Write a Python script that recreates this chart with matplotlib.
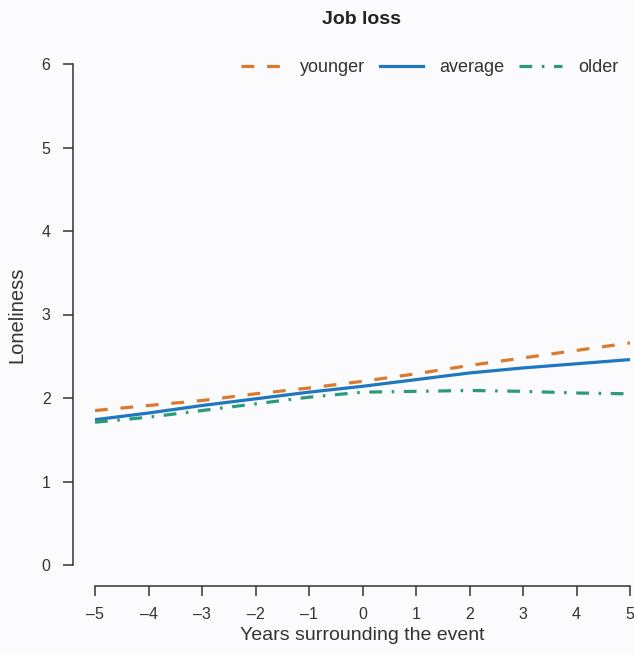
import matplotlib.pyplot as plt
import numpy as np

plt.rcParams['font.family'] = ['Liberation Sans', 'DejaVu Sans']

# years around the event and loneliness trajectories
years = np.arange(-5, 6)
younger = [1.85, 1.91, 1.97, 2.05, 2.12, 2.20, 2.29, 2.39, 2.48, 2.57, 2.66]
average = [1.74, 1.82, 1.91, 1.99, 2.07, 2.14, 2.22, 2.30, 2.36, 2.41, 2.46]
older = [1.71, 1.77, 1.85, 1.93, 2.01, 2.07, 2.08, 2.09, 2.08, 2.06, 2.05]

yticks = [0, 1, 2, 3, 4, 5, 6]

bg = '#FBFBFD'
fig = plt.figure(figsize=(6.34, 6.53), dpi=100, facecolor=bg)
ax = fig.add_axes([95/634, 88/653, 535/634, 501/653], facecolor=bg)

ax.plot(years, younger, color='#DA7A2E', lw=2.3, linestyle=(0, (4, 4)), label='younger')
ax.plot(years, average, color='#1F77BE', lw=2.3, label='average')
ax.plot(years, older, color='#2A9A78', lw=2.3, linestyle=(0, (4, 3, 0.8, 3)), label='older')

ax.set_xlim(-5, 5)
ax.set_ylim(0, 6)
ax.set_xticks(years)
ax.set_xticklabels([str(y).replace('-', '\u2013') for y in years])
ax.set_yticks(yticks)

# R-style detached axes
for s in ['top', 'right']:
    ax.spines[s].set_visible(False)
ax.spines['left'].set_position(('outward', 16))
ax.spines['bottom'].set_position(('outward', 15))
ax.spines['left'].set_bounds(0, 6)
ax.spines['bottom'].set_bounds(-5, 5)
for s in ['left', 'bottom']:
    ax.spines[s].set_color('#333333')
    ax.spines[s].set_linewidth(1.1)
ax.tick_params(direction='out', length=7, width=1.1, color='#333333',
               labelsize=11.5, labelcolor='#333333')
ax.tick_params(axis='x', pad=8)
ax.tick_params(axis='y', pad=9)

ax.set_xlabel('Years surrounding the event', fontsize=14, color='#333333', labelpad=4)
ax.set_ylabel('Loneliness', fontsize=14.5, color='#333333', labelpad=11)
fig.text(362/634, 1 - 19/653, 'Job loss', ha='center', va='center',
         fontsize=14, fontweight='bold', color='#222222')

leg = ax.legend(loc='center right', bbox_to_anchor=(628/634, 1 - 68/653),
                bbox_transform=fig.transFigure, ncol=3, frameon=False, borderpad=0,
                handlelength=2.4, columnspacing=0.8, handletextpad=0.9, fontsize=13)
for t in leg.get_texts():
    t.set_color('#333333')

fig.savefig('out.png', dpi=100, facecolor=bg)
